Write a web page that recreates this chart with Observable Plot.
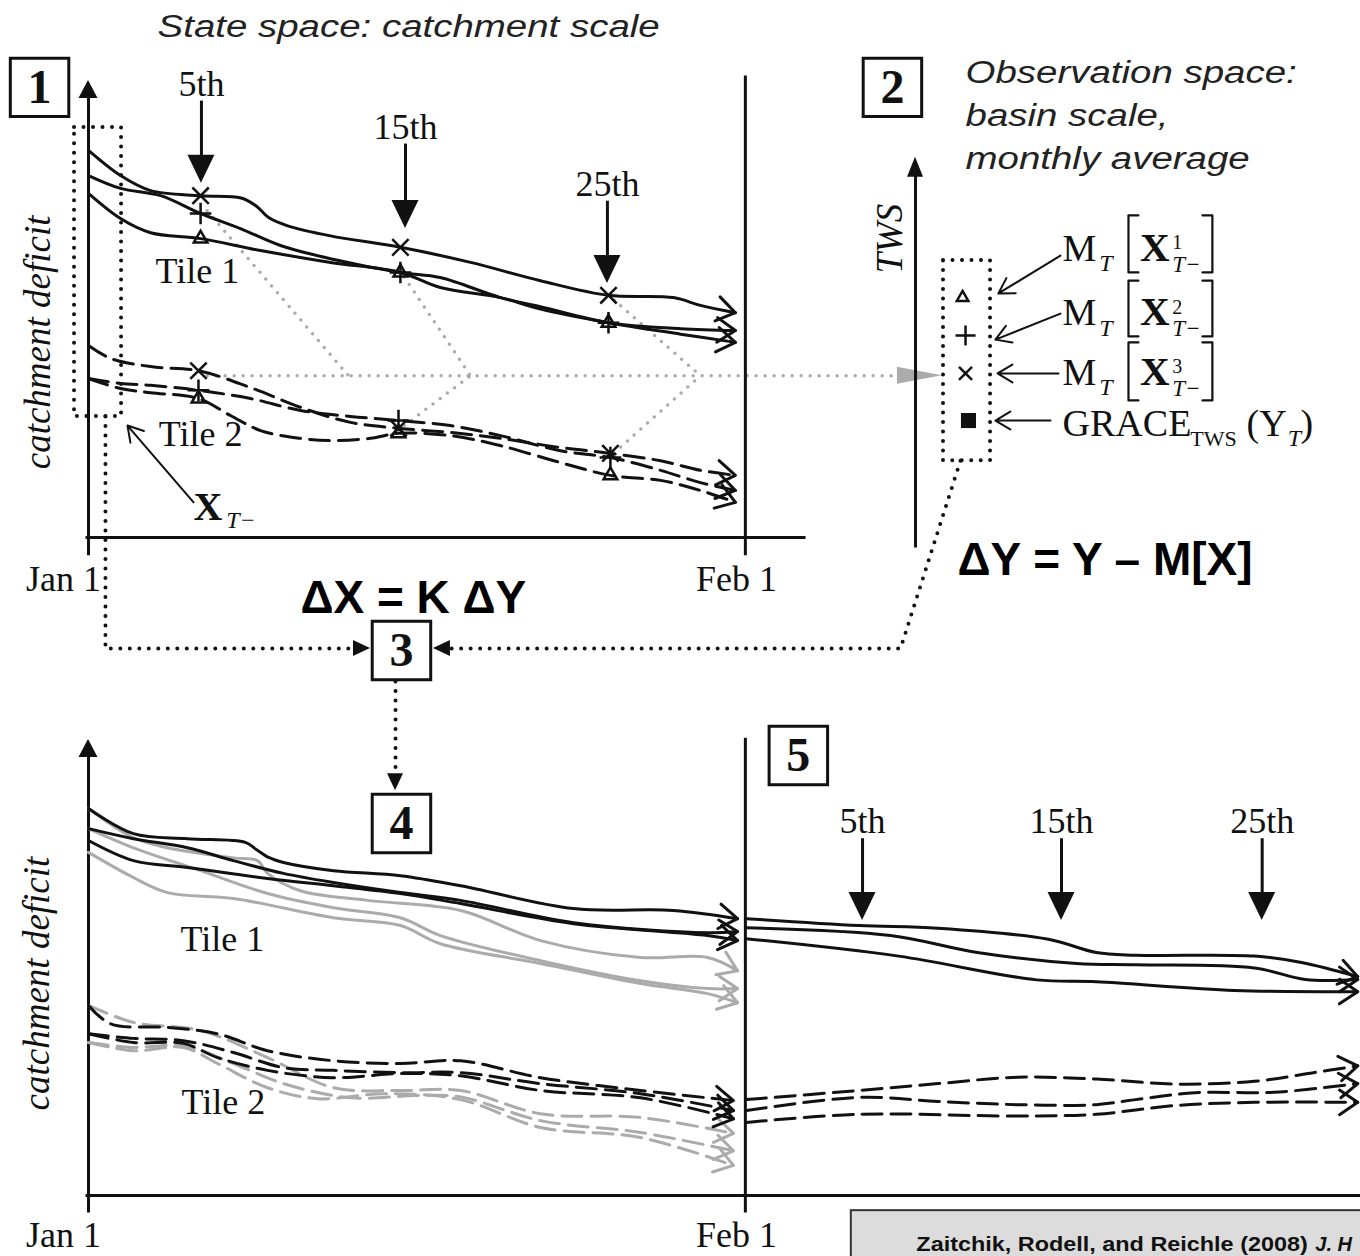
<!DOCTYPE html>
<html>
<head>
<meta charset="utf-8">
<script src="https://cdn.jsdelivr.net/npm/d3@7"></script>
<script src="https://cdn.jsdelivr.net/npm/@observablehq/plot@0.6"></script>
<style>
  html, body { margin: 0; padding: 0; background: #fff; }
  svg { display: block; }
</style>
</head>
<body>
<script>
// ===================== DATA =====================
// x: days since Jan 1 (Feb 1 = 31); y: catchment deficit (schematic units, 0 on the time axis)
const tickLabels = ["Jan 1", "Feb 1"];
const tickDays = [0, 31];
const updateLabels = ["5th", "15th", "25th"];
const updateDaysMonth1 = [5.33, 14.96, 24.49];
const updateDaysMonth2 = [36.53, 45.92, 55.39];
const updateArrowTopMonth1 = [95.6, 86.2, 73.7];
const updateArrowTipMonth1 = [77.5, 67.6, 55.6];
const updateArrowTopMonth2 = [78.2, 78.2, 78.2];
const updateArrowTipMonth2 = [60.2, 60.2, 60.2];
const tileLabels = ["Tile 1", "Tile 2"];
const boxLabels = ["1", "2", "3", "4", "5"];

// Panel 1: ensemble before update (3 members per tile)
const p1Tile1 = [
  [[0,84.7],[1.51,79.2],[2.93,75.9],[5.29,74.8],[7.2,74.3],[7.9,72.6],[8.5,70.0],[9.4,68.2],[11.42,66.0],[14.72,63.5],[18.03,60.2],[21.33,56.2],[24.54,53.0],[27.6,52.5],[28.88,50.8],[30.53,49.2]],
  [[0,79.2],[1.51,76.4],[3.4,74.8],[5.29,70.9],[7.17,67.6],[9.06,63.9],[11.42,61.0],[14.72,58.0],[16.6,56.9],[19.44,52.5],[21.33,50.5],[24.54,47.0],[27.94,45.7],[30.53,45.3]],
  [[0,75.3],[1.51,69.8],[2.93,66.7],[5.29,65.4],[8.12,62.8],[11.42,60.2],[14.72,58.0],[16.6,54.7],[19.44,52.5],[21.33,50.0],[24.54,47.0],[27.94,44.5],[30.53,42.7]]
];
const p1Tile2 = [
  [[0,42.0],[1.04,39.2],[2.93,37.4],[5.19,36.5],[7.65,32.8],[10.0,28.5],[12.36,25.2],[14.63,23.9],[17.08,23.0],[19.44,21.7],[22.27,19.7],[24.63,18.4],[27.0,16.8],[28.88,14.7],[30.53,13.6]],
  [[0,34.8],[1.51,33.7],[2.93,33.3],[5.19,32.2],[7.65,30.4],[10.0,27.8],[12.36,26.5],[14.63,25.6],[17.08,24.5],[19.44,22.3],[22.27,19.0],[24.63,17.5],[27.0,14.7],[28.88,12.0],[30.53,10.3]],
  [[0,34.8],[1.51,32.6],[2.93,31.7],[5.19,30.4],[6.7,26.7],[8.12,23.4],[10.0,21.7],[11.42,21.2],[13.31,21.7],[14.63,22.8],[17.08,22.3],[19.44,20.1],[22.27,16.4],[24.63,13.6],[27.0,12.5],[28.88,10.3],[30.53,7.7]]
];
// simulated TWS samples on the update days (member 1: triangle, 2: plus, 3: times)
const p1MarkTimes = [[5.29,74.8],[14.72,63.5],[24.54,53.0],[5.19,36.5],[14.63,23.9],[24.63,18.4]];
const p1MarkPlus  = [[5.29,70.9],[14.72,58.0],[24.54,47.0],[5.19,32.2],[14.63,25.6],[24.63,17.5]];
const p1MarkTri   = [[5.29,65.4],[14.72,58.0],[24.54,47.0],[5.19,30.4],[14.63,22.8],[24.63,13.6]];
// grey dotted averaging paths towards observation space
const grayLinks = [
  [[5.6,71.5],[12.27,35.4]],
  [[14.9,57.0],[18.03,35.4]],
  [[14.9,24.5],[18.03,35.4]],
  [[24.8,52.0],[28.88,35.4]],
  [[24.8,18.5],[28.88,35.4]],
  [[5.6,35.4],[38.1,35.4]]
];

// Panel 4 (local units of the lower panel): prior (grey) and updated (black)
const p4Tile1Prior = [
  [[0,84.7],[2.12,78.3],[3.73,76.1],[6.84,73.9],[7.98,73.3],[8.45,70.5],[10.0,66.7],[13.17,64.6],[17.56,62.4],[21.33,55.8],[26.05,52.1],[29.21,52.1],[30.63,49.2]],
  [[0,80.3],[2.12,76.1],[5.29,71.1],[8.45,66.1],[11.56,63.0],[14.72,60.8],[16.61,56.9],[21.33,51.4],[26.05,47.0],[29.21,45.3],[30.63,45.3]],
  [[0,75.1],[2.12,69.6],[3.73,66.3],[6.84,65.0],[11.56,60.8],[14.72,59.1],[16.61,55.1],[21.33,50.8],[26.05,46.4],[29.21,44.2],[30.63,42.2]]
];
const p4Tile1Post = [
  [[0,84.7],[2.12,79.2],[4.67,78.1],[7.4,77.3],[7.9,75.8],[8.5,74.0],[9.2,72.9],[11.56,71.1],[14.72,70.0],[17.56,67.8],[22.89,62.8],[27.61,62.4],[30.63,60.6]],
  [[0,80.3],[2.12,78.1],[4.67,76.1],[6.84,73.3],[9.2,70.5],[11.56,68.5],[14.72,66.3],[17.56,64.6],[22.89,59.7],[29.21,57.5],[30.63,57.8]],
  [[0,77.7],[2.12,73.3],[4.67,71.8],[8.45,69.4],[11.56,67.8],[14.72,66.1],[17.56,63.9],[22.89,59.5],[29.21,56.9],[30.63,55.8]]
];
const p4Tile2Prior = [
  [[0,41.6],[2.12,37.9],[5.29,36.1],[8.45,30.2],[11.56,23.6],[14.72,23.0],[17.56,23.0],[21.33,17.9],[26.05,17.1],[30.44,13.6]],
  [[0,33.5],[2.12,32.4],[4.48,32.8],[6.84,28.9],[9.2,24.5],[12.36,21.4],[15.53,21.9],[17.56,21.6],[21.33,16.4],[26.05,13.8],[30.44,9.8]],
  [[0,33.5],[2.12,31.7],[4.48,32.4],[6.09,28.9],[8.45,23.6],[10.81,21.2],[13.92,22.3],[17.56,21.0],[21.33,14.9],[26.05,12.7],[30.44,6.6]]
];
const p4Tile2Post = [
  [[0,41.6],[1.04,37.6],[3.73,36.8],[6.09,35.4],[8.45,31.7],[11.56,29.5],[14.72,28.9],[17.56,29.5],[21.33,25.8],[26.05,23.0],[30.44,20.8]],
  [[0,35.4],[2.12,34.4],[4.48,33.9],[6.84,31.3],[9.2,28.0],[11.56,27.4],[14.72,26.9],[17.56,26.9],[21.33,24.5],[26.05,22.3],[30.44,18.6]],
  [[0,35.4],[2.12,33.5],[4.48,33.3],[6.09,30.2],[8.45,27.4],[11.56,25.8],[14.72,26.7],[17.56,26.2],[21.33,23.0],[26.05,21.4],[30.44,16.8]]
];
// Panel 5: next month's run from the updated states
const p5Tile1 = [
  [[31.05,60.6],[36.37,59.1],[40.09,58.5],[45.3,56.1],[47.56,53.2],[49.41,52.6],[55.03,52.4],[57.25,51.0],[59.9,47.9]],
  [[31.05,58.6],[37.85,56.9],[41.95,53.2],[46.63,50.8],[49.41,50.5],[55.03,49.8],[57.43,47.3],[59.9,47.3]],
  [[31.05,56.2],[38.23,52.4],[44.74,47.2],[47.57,46.8],[54.08,44.9],[59.9,44.6]]
];
const p5Tile2 = [
  [[31.05,21.0],[36.37,23.0],[40.09,24.5],[43.83,25.9],[47.56,25.5],[51.29,24.4],[55.02,25.0],[57.81,26.9],[59.9,28.4]],
  [[31.05,18.6],[36.37,21.5],[40.09,20.6],[43.83,19.9],[47.56,19.9],[49.42,21.0],[52.22,22.5],[55.95,22.6],[59.9,24.5]],
  [[31.05,16.0],[36.37,17.8],[43.83,17.4],[47.56,17.8],[51.29,19.7],[55.02,20.4],[59.9,20.4]]
];
// Panel 2: observation-space values (TWS)
const obsSymbols = ["triangle2", "plus", "times", "square"];
const obsValues = [52.5, 44.2, 35.9, 25.6];

// ===================== LAYOUT =====================
const W = 1360, H = 1256;
const xDomain = [-4.153, 60.03], yDomain = [-157.33, 117.51];
const PXD = W / (xDomain[1] - xDomain[0]);   // px per day
const PXU = H / (yDomain[1] - yDomain[0]);   // px per deficit unit
const BOTTOM = -144;                          // lower panel baseline
const INK = "#111", GRAY = "#ababab", TXT = "#222";
const SERIF = "Liberation Serif, Times New Roman, serif";
const SANS = "Liberation Sans, Arial, sans-serif";

const flat = (curves, g, off = 0) => curves.flatMap((c, i) => c.map(([x, y]) => ({id: g + i, x, y: y + off})));
function chevrons(curves, g, off = 0, len = 22, half = 34) {
  return curves.flatMap((c, i) => {
    const [xa, ya] = c[c.length - 2], [xb, yb] = c[c.length - 1];
    const dx = (xb - xa) * PXD, dy = -(yb - ya) * PXU;
    const n = Math.hypot(dx, dy), bx = -dx / n, by = -dy / n, a = half * Math.PI / 180;
    const arm = s => {
      const rx = bx * Math.cos(s * a) - by * Math.sin(s * a);
      const ry = bx * Math.sin(s * a) + by * Math.cos(s * a);
      return {id: g + i, x: xb + rx * len / PXD, y: yb + off - ry * len / PXU};
    };
    return [arm(1), {id: g + i, x: xb, y: yb + off}, arm(-1)];
  });
}
const headDown = (id, x, tip, len, half) => [{id, y: tip + len / PXU, x1: x - half / PXD, x2: x + half / PXD}, {id, y: tip, x1: x, x2: x}];
const headUp = (id, x, tip, len, half) => [{id, y: tip - len / PXU, x1: x - half / PXD, x2: x + half / PXD}, {id, y: tip, x1: x, x2: x}];
const headH = (id, y, tip, dir, len, half) => [{id, x: tip - dir * len / PXD, y1: y - half / PXU, y2: y + half / PXU}, {id, x: tip, y1: y, y2: y}];

const xy = {x: "x", y: "y", z: "id"};
const L = {x1: "x1", y1: "y1", x2: "x2", y2: "y2"};
const T = (data, o) => Plot.text(data, {x: "x", y: "y", text: "t", lineAnchor: "bottom", fill: INK, fontFamily: SERIF, ...o});

const marks = [];

// caption box
marks.push(Plot.rect([{x1: 36.0, x2: 61, y1: -147.3, y2: -160}], {...L, fill: "#dcdcdc", stroke: "#333", strokeWidth: 2}));

// grey dotted averaging paths + grey arrowhead
marks.push(Plot.line(flat(grayLinks, "g"), {...xy, stroke: GRAY, strokeWidth: 3.5, strokeDasharray: "0 9", strokeLinecap: "round"}));
marks.push(Plot.areaY(headH("gh", 35.4, 40.3, 1, 45, 8.5), {x: "x", y1: "y1", y2: "y2", z: "id", fill: GRAY}));

// axes
marks.push(Plot.link([
  {x1: 0, y1: -3.9, x2: 0, y2: 96.5},
  {x1: -0.14, y1: 0, x2: 33.84, y2: 0},
  {x1: tickDays[1], y1: -3.9, x2: tickDays[1], y2: 101.1},
  {x1: 0, y1: BOTTOM - 3.7, x2: 0, y2: BOTTOM + 96},
  {x1: -0.14, y1: BOTTOM, x2: 60.2, y2: BOTTOM},
  {x1: tickDays[1], y1: BOTTOM - 3.7, x2: tickDays[1], y2: BOTTOM + 100.2},
  {x1: 39.03, y1: -2.2, x2: 39.03, y2: 79.5}
], {...L, stroke: INK, strokeWidth: 3}));
marks.push(Plot.areaX([
  ...headUp("ya1", 0, 100, 18, 9.5), ...headUp("ya2", 0, BOTTOM + 99.8, 18, 9.5), ...headUp("tws", 39.03, 83.2, 20, 8)
], {y: "y", x1: "x1", x2: "x2", z: "id", fill: INK}));

// ensemble curves
const solid = {stroke: INK, strokeWidth: 3, curve: "catmull-rom"};
const dashed = {...solid, strokeDasharray: "20 9"};
marks.push(Plot.line(flat(p4Tile1Prior, "a", BOTTOM), {...xy, ...solid, stroke: GRAY}));
marks.push(Plot.line(flat(p4Tile2Prior, "b", BOTTOM), {...xy, ...dashed, stroke: GRAY}));
marks.push(Plot.line([...chevrons(p4Tile1Prior, "ca", BOTTOM), ...chevrons(p4Tile2Prior, "cb", BOTTOM)], {...xy, stroke: GRAY, strokeWidth: 3}));
marks.push(Plot.line(flat(p1Tile1, "c"), {...xy, ...solid}));
marks.push(Plot.line(flat(p1Tile2, "d"), {...xy, ...dashed}));
marks.push(Plot.line(flat(p4Tile1Post, "e", BOTTOM), {...xy, ...solid}));
marks.push(Plot.line(flat(p4Tile2Post, "f", BOTTOM), {...xy, ...dashed}));
marks.push(Plot.line(flat(p5Tile1, "h", BOTTOM), {...xy, ...solid}));
marks.push(Plot.line(flat(p5Tile2, "k", BOTTOM), {...xy, ...dashed}));
marks.push(Plot.line([
  ...chevrons(p1Tile1, "xc"), ...chevrons(p1Tile2, "xd"),
  ...chevrons(p4Tile1Post, "xe", BOTTOM), ...chevrons(p4Tile2Post, "xf", BOTTOM),
  ...chevrons(p5Tile1, "xh", BOTTOM), ...chevrons(p5Tile2, "xk", BOTTOM)
], {...xy, stroke: INK, strokeWidth: 3}));

// markers on update days
const mk = {x: d => d[0], y: d => d[1], fill: "none", stroke: INK, strokeWidth: 2.5};
marks.push(Plot.dot(p1MarkTri, {...mk, symbol: "triangle2", r: 6.5}));
marks.push(Plot.dot(p1MarkPlus, {...mk, symbol: "plus", r: 7}));
marks.push(Plot.dot(p1MarkTimes, {...mk, symbol: "times", r: 7.5}));

// update-day arrows
const arrows1 = updateDaysMonth1.map((x, i) => ({x, top: updateArrowTopMonth1[i], tip: updateArrowTipMonth1[i], t: updateLabels[i]}));
const arrows2 = updateDaysMonth2.map((x, i) => ({x, top: updateArrowTopMonth2[i] + BOTTOM, tip: updateArrowTipMonth2[i] + BOTTOM, t: updateLabels[i]}));
const allArrows = [...arrows1, ...arrows2];
marks.push(Plot.link(allArrows, {x1: "x", x2: "x", y1: "top", y2: d => d.tip + 20 / PXU, stroke: INK, strokeWidth: 3}));
marks.push(Plot.areaX(allArrows.flatMap((d, i) => headDown("ar" + i, d.x, d.tip, 28, 13.5)), {y: "y", x1: "x1", x2: "x2", z: "id", fill: INK}));
marks.push(Plot.text(allArrows, {x: "x", y: d => d.top + 1.1, text: "t", lineAnchor: "bottom", fontFamily: SERIF, fontSize: 36, fill: INK}));

// dotted boxes and connectors
const dotted = {stroke: INK, strokeWidth: 4, strokeDasharray: "0 9.5", strokeLinecap: "round"};
marks.push(Plot.rect([{x1: -0.66, x2: 1.56, y1: 26.5, y2: 89.7}, {x1: 40.35, x2: 42.57, y1: 16.8, y2: 60.6}], {...L, fill: "none", ...dotted}));
marks.push(Plot.line([
  {id: "l", x: 0.8, y: 26.5}, {id: "l", x: 0.8, y: -24.3}, {id: "l", x: 12.5, y: -24.3},
  {id: "r", x: 41.15, y: 16.8}, {id: "r", x: 38.32, y: -24.3}, {id: "r", x: 17.1, y: -24.3},
  {id: "v", x: 14.49, y: -31.5}, {id: "v", x: 14.49, y: -51.8}
], {...xy, ...dotted}));
marks.push(Plot.areaY([...headH("hl", -24.3, 13.31, 1, 17, 8), ...headH("hr", -24.3, 16.28, -1, 17, 8)], {x: "x", y1: "y1", y2: "y2", z: "id", fill: INK}));
marks.push(Plot.areaX(headDown("hv", 14.49, -55.4, 17, 8), {y: "y", x1: "x1", x2: "x2", z: "id", fill: INK}));

// numbered boxes
const boxes = [[-2.31, 98.5], [37.94, 98.5], [14.77, -24.7], [14.77, -62.6], [33.5, -47.7]].map(([x, y], i) => ({x, y, t: boxLabels[i]}));
marks.push(Plot.dot(boxes, {x: "x", y: "y", symbol: "square", r: 33, fill: "white", stroke: INK, strokeWidth: 3}));
marks.push(Plot.text(boxes, {x: "x", y: "y", text: "t", lineAnchor: "middle", fontFamily: SERIF, fontWeight: "bold", fontSize: 48, fill: INK}));

// observation-space symbols
const obsX = [41.25, 41.39, 41.39, 41.53];
const obsR = [5.5, 6.5, 6];
obsSymbols.slice(0, 3).forEach((s, i) =>
  marks.push(Plot.dot([{x: obsX[i], y: obsValues[i]}], {x: "x", y: "y", symbol: s, r: obsR[i], fill: "none", stroke: INK, strokeWidth: 2.5})));
marks.push(Plot.dot([{x: obsX[3], y: obsValues[3]}], {x: "x", y: "y", symbol: obsSymbols[3], r: 8.5, fill: INK}));

// pointer arrows
marks.push(Plot.arrow([
  {x1: 45.87, y1: 61.7, x2: 42.94, y2: 53.4},
  {x1: 45.87, y1: 49.0, x2: 42.8, y2: 43.3},
  {x1: 45.78, y1: 35.9, x2: 42.9, y2: 35.9},
  {x1: 45.4, y1: 25.6, x2: 42.8, y2: 25.6},
  {x1: 4.96, y1: 7.7, x2: 1.84, y2: 24.5}
], {...L, stroke: INK, strokeWidth: 2, headLength: 13, headAngle: 62}));

// brackets of M_T[X]
const bracketRows = [[70.5, 58.0], [56.2, 44.0], [42.7, 30.0]];
marks.push(Plot.line(bracketRows.flatMap(([t, b], i) => [
  {id: "bl" + i, x: 49.55, y: t}, {id: "bl" + i, x: 49.08, y: t}, {id: "bl" + i, x: 49.08, y: b}, {id: "bl" + i, x: 49.55, y: b},
  {id: "br" + i, x: 52.57, y: t}, {id: "br" + i, x: 53.04, y: t}, {id: "br" + i, x: 53.04, y: b}, {id: "br" + i, x: 52.57, y: b}
]), {...xy, stroke: INK, strokeWidth: 2.2}));

// ---- texts ----
const rowBase = [60.6, 46.4, 33.3];
marks.push(T(rowBase.map(y => ({x: 45.97, y, t: "M"})), {textAnchor: "start", fontSize: 38}));
marks.push(T(rowBase.map(y => ({x: 47.7, y: y - 2.2, t: "T"})), {textAnchor: "start", fontSize: 24, fontStyle: "italic"}));
marks.push(T(rowBase.map(y => ({x: 49.62, y, t: "X"})), {textAnchor: "start", fontSize: 41, fontWeight: "bold"}));
marks.push(T(rowBase.map((y, i) => ({x: 51.15, y: y + 2.6, t: String(i + 1)})), {textAnchor: "start", fontSize: 20}));
marks.push(T(rowBase.map(y => ({x: 51.15, y: y - 2.4, t: "T−"})), {textAnchor: "start", fontSize: 23, fontStyle: "italic"}));
marks.push(T([{x: 45.97, y: 22.3, t: "GRACE"}, {x: 54.65, y: 22.3, t: "(Y"}, {x: 57.2, y: 22.3, t: ")"}], {textAnchor: "start", fontSize: 38}));
marks.push(T([{x: 52.0, y: 20.1, t: "TWS"}], {textAnchor: "start", fontSize: 22}));
marks.push(T([{x: 56.6, y: 20.1, t: "T"}], {textAnchor: "start", fontSize: 24, fontStyle: "italic"}));
marks.push(T([{x: 4.96, y: 3.9, t: "X"}], {textAnchor: "start", fontSize: 40, fontWeight: "bold"}));
marks.push(T([{x: 6.5, y: 2.0, t: "T−"}], {textAnchor: "start", fontSize: 24, fontStyle: "italic"}));

// tick labels
marks.push(T([
  {x: -1.18, y: -11.8, t: tickLabels[0]}, {x: 30.58, y: -11.8, t: tickLabels[1]},
  {x: -1.18, y: -155.3, t: tickLabels[0]}, {x: 30.58, y: -155.3, t: tickLabels[1]}
], {fontSize: 36}));
// tile labels
marks.push(T([
  {x: 5.14, y: 55.6, t: tileLabels[0]}, {x: 5.29, y: 20.1, t: tileLabels[1]},
  {x: 6.32, y: BOTTOM + 53.6, t: tileLabels[0]}, {x: 6.37, y: BOTTOM + 17.9, t: tileLabels[1]}
], {fontSize: 36}));
// rotated axis labels
marks.push(Plot.text([
  {x: -2.36, y: 42.7, t: "catchment deficit"},
  {x: -2.41, y: BOTTOM + 46.4, t: "catchment deficit"},
  {x: 37.85, y: 65.4, t: "TWS"}
], {x: "x", y: "y", text: "t", rotate: -90, lineAnchor: "middle", fontFamily: SERIF, fontStyle: "italic", fontSize: 37, fill: INK}));

// sans-serif headings
marks.push(Plot.text([
  {x: 3.26, y: 109.6, t: "State space: catchment scale"},
  {x: 41.39, y: 99.56, t: "Observation space:"},
  {x: 41.39, y: 90.15, t: "basin scale,"},
  {x: 41.39, y: 80.74, t: "monthly average"}
], {x: "x", y: "y", text: "t", textAnchor: "start", lineAnchor: "bottom", fontFamily: SANS, fontStyle: "italic", fontSize: 31, fill: TXT}));
marks.push(Plot.text([
  {x: 10.0, y: -16.6, t: "ΔX = K ΔY"},
  {x: 41.01, y: -8.3, t: "ΔY = Y – M[X]"}
], {x: "x", y: "y", text: "t", textAnchor: "start", lineAnchor: "bottom", fontFamily: SANS, fontWeight: "bold", fontSize: 46, fill: "#000"}));
// caption
marks.push(Plot.text([{x: 39.07, y: -156.2, t: "Zaitchik, Rodell, and Reichle (2008)"}],
  {x: "x", y: "y", text: "t", textAnchor: "start", lineAnchor: "bottom", fontFamily: SANS, fontWeight: "bold", fontSize: 20, fill: "#111"}));
marks.push(Plot.text([{x: 57.9, y: -156.2, t: "J. H"}],
  {x: "x", y: "y", text: "t", textAnchor: "start", lineAnchor: "bottom", fontFamily: SANS, fontWeight: "bold", fontStyle: "italic", fontSize: 20, fill: "#111"}));

const chart = Plot.plot({
  width: W, height: H,
  marginTop: 0, marginRight: 0, marginBottom: 0, marginLeft: 0,
  x: {domain: xDomain, axis: null},
  y: {domain: yDomain, axis: null},
  style: {background: "white"},
  marks
});
document.body.appendChild(chart);

// the original artwork's sans-serif lettering is horizontally wider than Arial
const stretch = {
  "State space: catchment scale": 1.24, "Observation space:": 1.24, "basin scale,": 1.24, "monthly average": 1.24,
  "Zaitchik, Rodell, and Reichle (2008)": 1.17
};
chart.querySelectorAll("text").forEach(t => {
  const f = stretch[t.textContent];
  if (f) {
    const w = t.getComputedTextLength();
    t.setAttribute("textLength", (w * f).toFixed(1));
    t.setAttribute("lengthAdjust", "spacingAndGlyphs");
  }
});
</script>
</body>
</html>
